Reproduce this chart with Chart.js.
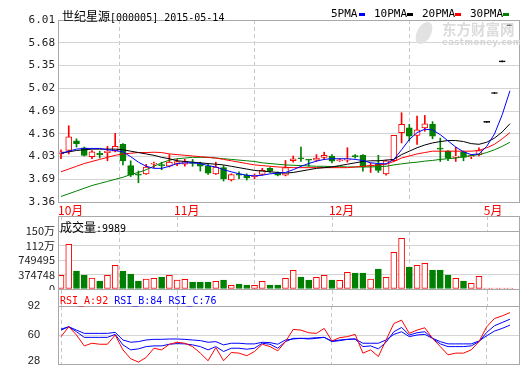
<!DOCTYPE html>
<html>
<head>
<meta charset="utf-8">
<script src="https://cdn.jsdelivr.net/npm/chart.js"></script>
<style>
body { margin: 0; background: #fff; }
#wrap { position: relative; width: 520px; height: 365px; overflow: hidden; }
canvas { position: absolute; left: 0; }
.t { position: absolute; white-space: nowrap; line-height: 1; color: #000; }
.cjk { font-family: "Noto Sans CJK SC", sans-serif; font-size: 12px; }
.mono { font-family: "DejaVu Sans Mono", monospace; font-size: 10px; }
.leg { font-family: "DejaVu Sans Mono", monospace; font-size: 11px; }
.sw { position: absolute; width: 6px; height: 3px; }
</style>
</head>
<body>
<div id="wrap">
  <canvas id="kline" width="520" height="216" style="top:0"></canvas>
  <canvas id="vol" width="520" height="74" style="top:216px"></canvas>
  <canvas id="rsi" width="520" height="75" style="top:290px"></canvas>

  <div class="t" style="left:417px;top:21px;width:14px;height:24px;border-radius:50%;background:#e2e2e2;transform:rotate(28deg)"></div>
  <div class="t" style="left:442px;top:22px;font-family:'Noto Sans CJK SC';font-weight:bold;font-size:14.5px;color:#dcdcdc">东方财富网</div>
  <div class="t" style="left:442px;top:38px;font-family:'DejaVu Sans';font-weight:bold;font-size:8.5px;color:#d6d6d6;letter-spacing:0.4px">eastmoney.com</div>

  <div class="t" style="left:62px;top:8px"><span class="cjk">世纪星源</span><span class="mono">[000005] 2015-05-14</span></div>

  <div class="t leg" style="left:331px;top:8px">5PMA</div>
  <div class="sw" style="left:359px;top:13px;background:#0000ff"></div>
  <div class="t leg" style="left:374px;top:8px">10PMA</div>
  <div class="sw" style="left:407px;top:13px;background:#000"></div>
  <div class="t leg" style="left:422px;top:8px">20PMA</div>
  <div class="sw" style="left:455px;top:13px;background:#ff0000"></div>
  <div class="t leg" style="left:470px;top:8px">30PMA</div>
  <div class="sw" style="left:503px;top:13px;background:#008000"></div>

  <div class="t" style="left:60px;top:219px"><span class="cjk">成交量</span><span class="mono">:9989</span></div>

  <div class="t mono" style="left:60px;top:296px"><span style="color:#ff0000">RSI_A:92</span> <span style="color:#0000ff">RSI_B:84</span> <span style="color:#0000ff">RSI_C:76</span></div>
</div>

<script>
// month labels on the time axis and the candle index where each month starts
var monthLabels = ['10月', '11月', '12月', '5月'];
var monthStart = [0, 15, 35, 55];

var priceTicks = ['3.36', '3.69', '4.03', '4.36', '4.69', '5.02', '5.35', '5.68', '6.01'];
var volTicks = [0, 374748, 749495, 1124243, 1498990];
var rsiTicks = [28, 60, 92];

var open = [4.06, 4.11, 4.25, 4.15, 4.02, 4.07, 4.08, 4.10, 4.20, 3.89,
    3.76, 3.77, 3.91, 3.90, 3.88, 3.91, 3.91, 3.94, 3.92, 3.88,
    3.77, 3.86, 3.68, 3.77, 3.75, 3.73, 3.76, 3.85, 3.79, 3.75,
    3.96, 4.00, 3.98, 3.97, 4.01, 4.03, 3.96, 3.97, 4.03, 4.04,
    3.88, 3.91, 3.77, 3.96, 4.37, 4.44, 4.33, 4.44, 4.49, 4.14,
    4.10, 4.01, 4.09, 4.02, 4.05, 4.52, 4.94, 5.40, 5.93];
var high = [4.12, 4.47, 4.28, 4.16, 4.11, 4.10, 4.17, 4.36, 4.21, 3.96,
    3.81, 3.91, 3.94, 3.94, 4.05, 3.98, 3.98, 3.98, 3.94, 3.91,
    3.94, 3.89, 3.77, 3.80, 3.77, 3.77, 3.85, 3.86, 3.80, 3.965,
    4.03, 4.16, 3.98, 4.05, 4.085, 4.05, 3.99, 4.15, 4.05, 4.05,
    3.93, 4.04, 3.97, 4.33, 4.66, 4.49, 4.61, 4.62, 4.53, 4.29,
    4.11, 4.16, 4.10, 4.05, 4.15, 4.52, 4.94, 5.40, 5.93];
var low = [3.99, 4.06, 4.16, 4.03, 3.99, 4.00, 3.96, 4.09, 3.90, 3.73,
    3.64, 3.76, 3.86, 3.83, 3.87, 3.89, 3.88, 3.88, 3.81, 3.76,
    3.76, 3.665, 3.665, 3.70, 3.68, 3.70, 3.75, 3.79, 3.74, 3.74,
    3.94, 3.95, 3.88, 3.955, 3.98, 3.93, 3.95, 3.94, 4.00, 3.81,
    3.79, 3.79, 3.75, 3.95, 4.22, 4.25, 4.20, 4.39, 4.28, 3.95,
    3.96, 3.95, 3.96, 3.99, 4.03, 4.52, 4.94, 5.40, 5.93];
var close = [4.09, 4.31, 4.21, 4.04, 4.09, 4.05, 4.10, 4.17, 3.96, 3.75,
    3.75, 3.87, 3.92, 3.89, 3.94, 3.95, 3.95, 3.92, 3.88, 3.78,
    3.87, 3.70, 3.76, 3.75, 3.71, 3.75, 3.82, 3.81, 3.75, 3.86,
    3.99, 3.99, 3.97, 4.00, 4.04, 3.955, 3.97, 3.98, 4.02, 3.87,
    3.89, 3.82, 3.96, 4.33, 4.49, 4.32, 4.41, 4.50, 4.32, 4.13,
    4.00, 4.03, 4.01, 4.03, 4.11, 4.52, 4.94, 5.40, 5.93];

var ma5 = [4.07, 4.10, 4.13, 4.14, 4.14, 4.14, 4.12, 4.11, 4.09, 4.02,
    3.94, 3.88, 3.85, 3.85, 3.88, 3.92, 3.93, 3.93, 3.92, 3.89,
    3.87, 3.83, 3.80, 3.77, 3.75, 3.74, 3.75, 3.77, 3.78, 3.79,
    3.83, 3.88, 3.92, 3.955, 3.98, 3.99, 3.99, 3.99, 3.98, 3.965,
    3.93, 3.92, 3.915, 3.98, 4.12, 4.27, 4.37, 4.42, 4.41, 4.34,
    4.25, 4.16, 4.09, 4.05, 4.06, 4.17, 4.35, 4.63, 4.98];
var ma10 = [4.07, 4.09, 4.11, 4.12, 4.13, 4.13, 4.13, 4.13, 4.12, 4.10,
    4.08, 4.06, 4.04, 4.01, 3.99, 3.96, 3.95, 3.94, 3.93, 3.92,
    3.91, 3.90, 3.88, 3.86, 3.84, 3.82, 3.81, 3.80, 3.79, 3.78,
    3.79, 3.81, 3.83, 3.85, 3.86, 3.87, 3.89, 3.91, 3.93, 3.95,
    3.96, 3.96, 3.97, 3.98, 4.05, 4.10, 4.15, 4.19, 4.22, 4.24,
    4.255, 4.255, 4.24, 4.21, 4.20, 4.23, 4.29, 4.38, 4.50];
var ma20 = [3.80, 3.84, 3.88, 3.92, 3.95, 3.98, 4.01, 4.04, 4.06, 4.07,
    4.08, 4.08, 4.085, 4.08, 4.06, 4.05, 4.04, 4.03, 4.02, 4.01,
    4.00, 3.98, 3.96, 3.94, 3.92, 3.90, 3.89, 3.88, 3.87, 3.865,
    3.86, 3.86, 3.86, 3.86, 3.86, 3.86, 3.86, 3.86, 3.87, 3.88,
    3.89, 3.90, 3.91, 3.95, 4.00, 4.03, 4.06, 4.08, 4.10, 4.10,
    4.10, 4.10, 4.10, 4.10, 4.11, 4.15, 4.20, 4.28, 4.37];
var ma30 = [3.44, 3.48, 3.52, 3.56, 3.60, 3.63, 3.66, 3.69, 3.72, 3.76,
    3.79, 3.83, 3.88, 3.93, 3.97, 3.99, 4.00, 4.01, 4.01, 4.01,
    4.00, 3.99, 3.98, 3.97, 3.96, 3.95, 3.93, 3.92, 3.91, 3.90,
    3.895, 3.89, 3.885, 3.88, 3.88, 3.875, 3.875, 3.87, 3.87, 3.87,
    3.87, 3.875, 3.88, 3.90, 3.915, 3.93, 3.94, 3.955, 3.965, 3.98,
    3.99, 4.00, 4.02, 4.035, 4.05, 4.08, 4.12, 4.17, 4.23];

var volume = [353000, 1154000, 465000, 362000, 284000, 207000, 353000, 612000, 465000, 388000,
    207000, 258000, 276000, 310000, 353000, 233000, 250000, 181000, 181000, 181000,
    198000, 233000, 95000, 129000, 103000, 95000, 198000, 103000, 103000, 276000,
    482000, 310000, 233000, 302000, 353000, 233000, 224000, 431000, 414000, 414000,
    258000, 517000, 302000, 948000, 1310000, 569000, 612000, 663000, 491000, 491000,
    362000, 276000, 207000, 146000, 327000, 10000, 10000, 10000, 9989];

var rsiA = [58.2, 69.1, 60.0, 48.0, 50.9, 49.8, 49.8, 60.0, 43.6, 33.8,
    30.1, 35.2, 45.4, 43.6, 49.8, 52.0, 50.9, 47.2, 40.0, 31.6,
    46.1, 31.6, 40.7, 40.0, 37.1, 41.8, 49.8, 47.2, 42.5, 52.7,
    66.2, 65.4, 62.5, 61.8, 67.3, 53.4, 57.1, 58.2, 60.7, 40.0,
    43.6, 36.3, 54.5, 72.7, 76.4, 61.8, 65.4, 68.0, 56.3, 47.2,
    38.1, 40.0, 40.0, 43.6, 52.7, 69.1, 78.2, 81.1, 84.7];
var rsiB = [65.4, 69.1, 63.6, 57.4, 57.4, 57.4, 57.4, 60.7, 49.1, 43.6,
    44.7, 47.2, 48.0, 48.0, 49.8, 50.5, 50.2, 49.1, 47.2, 43.6,
    47.2, 41.8, 45.4, 45.4, 44.3, 45.4, 50.9, 49.8, 45.4, 52.7,
    56.3, 56.3, 55.6, 56.3, 57.4, 52.7, 53.8, 55.2, 55.6, 47.2,
    48.0, 44.7, 52.0, 63.6, 68.3, 60.0, 62.5, 63.6, 56.3, 50.2,
    47.2, 47.2, 47.2, 48.0, 52.7, 62.9, 70.2, 73.8, 77.4];
var rsiC = [66.5, 69.1, 65.4, 61.8, 61.8, 61.8, 61.8, 62.9, 54.5, 52.0,
    52.7, 54.5, 55.2, 55.2, 55.6, 55.6, 55.2, 54.5, 53.8, 52.0,
    52.7, 49.1, 50.9, 50.9, 50.2, 50.2, 52.0, 51.6, 49.8, 54.5,
    55.6, 56.3, 56.3, 57.1, 57.4, 53.4, 54.5, 55.2, 55.6, 50.9,
    50.9, 50.9, 54.5, 60.7, 63.6, 58.2, 60.0, 60.7, 56.3, 52.7,
    50.2, 50.2, 50.2, 50.2, 53.4, 59.2, 64.3, 67.3, 70.9];

var RED = '#ff0000', GREEN = '#008000', BLUE = '#0000ff';
var GRID = '#d4d4d4', FRAME = '#a8a8a8';

function pts(arr) {
    var out = [];
    for (var i = 0; i < arr.length; i++) out.push({ x: i, y: arr[i] });
    return out;
}

var candleColor = [], bodyFill = [], volColor = [], volFill = [];
for (var i = 0; i < open.length; i++) {
    var flat = open[i] == close[i] && high[i] == low[i];
    var up = close[i] >= open[i];
    candleColor.push(flat ? '#000000' : (up ? RED : GREEN));
    bodyFill.push(flat ? '#000000' : (up ? '#ffffff' : GREEN));
    volColor.push(up ? RED : GREEN);
    volFill.push(up ? '#ffffff' : GREEN);
}

var bodies = [], wicks = [];
for (var i = 0; i < open.length; i++) {
    bodies.push({ x: i, y: [open[i], close[i]] });
    wicks.push({ x: i, y: [low[i], high[i]] });
}

// no label overflow padding, the panels are laid out by hand
function noPad(s) {
    s.paddingTop = 0; s.paddingBottom = 0; s.paddingLeft = 0; s.paddingRight = 0;
}

// frame round each panel, with the dashed month lines carried up through the title strip
var framePlugin = {
    id: 'frame',
    afterDraw: function (chart, args, opts) {
        var ctx = chart.ctx, a = chart.chartArea, x = chart.scales.x;
        var top = opts.top;
        ctx.save();
        ctx.lineWidth = 1;
        if (top < a.top) {
            ctx.strokeStyle = '#c8c8c8';
            ctx.setLineDash([4, 3]);
            monthStart.forEach(function (v) {
                var px = Math.round(x.getPixelForValue(v)) + 0.5;
                ctx.beginPath();
                ctx.moveTo(px, top);
                ctx.lineTo(px, a.top);
                ctx.stroke();
            });
        }
        ctx.setLineDash([]);
        ctx.strokeStyle = FRAME;
        ctx.beginPath();
        if (opts.drawTop) {
            ctx.moveTo(a.left - 0.5, top + 0.5);
            ctx.lineTo(a.right + 0.5, top + 0.5);
        }
        ctx.moveTo(a.left - 0.5, top);
        ctx.lineTo(a.left - 0.5, a.bottom + 1);
        ctx.moveTo(a.right + 0.5, top);
        ctx.lineTo(a.right + 0.5, a.bottom + 1);
        ctx.moveTo(a.left - 0.5, a.bottom + 0.5);
        ctx.lineTo(a.right + 0.5, a.bottom + 0.5);
        ctx.moveTo(a.left - 0.5, a.top + 0.5);
        ctx.lineTo(a.right + 0.5, a.top + 0.5);
        ctx.stroke();
        ctx.restore();
    }
};

function xAxis(showLabels) {
    return {
        type: 'linear',
        min: -0.26,
        max: 59.17,
        offset: false,
        afterBuildTicks: function (s) {
            s.ticks = monthStart.map(function (v) { return { value: v }; });
        },
        afterFit: function (s) { s.height = showLabels ? 14 : 0; noPad(s); },
        grid: { color: '#c8c8c8', drawTicks: false },
        border: { display: false, dash: [4, 3] },
        ticks: {
            display: showLabels,
            autoSkip: false,
            maxRotation: 0,
            align: 'start',
            labelOffset: -3,
            padding: 1,
            color: RED,
            font: { family: '"Noto Sans CJK SC", sans-serif', size: 12 },
            callback: function (v, idx) { return monthLabels[idx]; }
        }
    };
}

Chart.defaults.animation = false;
Chart.defaults.plugins.legend.display = false;
Chart.defaults.plugins.tooltip.enabled = false;

new Chart(document.getElementById('kline'), {
    type: 'bar',
    data: {
        datasets: [
            { type: 'line', data: pts(ma5), borderColor: BLUE, borderWidth: 1, pointRadius: 0, order: 0 },
            { type: 'line', data: pts(ma10), borderColor: '#000000', borderWidth: 1, pointRadius: 0, order: 0 },
            { type: 'line', data: pts(ma20), borderColor: RED, borderWidth: 1, pointRadius: 0, order: 0 },
            { type: 'line', data: pts(ma30), borderColor: GREEN, borderWidth: 1, pointRadius: 0, order: 0 },
            {
                data: bodies, backgroundColor: bodyFill, borderColor: candleColor, borderWidth: 1,
                borderSkipped: false, barThickness: 6, minBarLength: 1, grouped: false, order: 1
            },
            {
                data: wicks, backgroundColor: candleColor, borderWidth: 0,
                barThickness: 1, minBarLength: 1, grouped: false, order: 2
            }
        ]
    },
    options: {
        responsive: false,
        layout: { autoPadding: false, padding: { top: 20, right: 1, left: 0, bottom: 0 } },
        plugins: { frame: { top: 20, drawTop: true } },
        scales: {
            x: xAxis(true),
            y: {
                min: 3.36,
                max: 6.01,
                afterBuildTicks: function (s) {
                    s.ticks = priceTicks.map(function (t, k) { return { value: 3.36 + k * (6.01 - 3.36) / 8 }; });
                },
                afterFit: function (s) { s.width = 59; noPad(s); },
                grid: { color: GRID, drawTicks: false },
                border: { display: false },
                ticks: {
                    autoSkip: false,
                    padding: 4,
                    color: '#222',
                    font: { family: '"DejaVu Sans Mono", monospace', size: 11 },
                    callback: function (v, idx) { return priceTicks[idx]; }
                }
            }
        }
    },
    plugins: [framePlugin]
});

new Chart(document.getElementById('vol'), {
    type: 'bar',
    data: {
        datasets: [{
            data: pts(volume), backgroundColor: volFill, borderColor: volColor, borderWidth: 1,
            borderSkipped: false, barThickness: 6, minBarLength: 1
        }]
    },
    options: {
        responsive: false,
        layout: { autoPadding: false, padding: { top: 15, right: 1, left: 0, bottom: 1 } },
        plugins: { frame: { top: 0, drawTop: true } },
        scales: {
            x: xAxis(false),
            y: {
                min: 0,
                max: volTicks[volTicks.length - 1],
                afterBuildTicks: function (s) {
                    s.ticks = volTicks.map(function (v) { return { value: v }; });
                },
                afterFit: function (s) { s.width = 59; noPad(s); },
                grid: { color: GRID, drawTicks: false },
                border: { display: false },
                ticks: {
                    autoSkip: false,
                    padding: 4,
                    color: '#222',
                    font: { family: '"Liberation Sans Narrow", "Noto Sans CJK SC", sans-serif', size: 11 },
                    callback: function (v) {
                        return v >= 1000000 ? Math.round(v / 10000) + '万' : String(v);
                    }
                }
            }
        }
    },
    plugins: [framePlugin]
});

new Chart(document.getElementById('rsi'), {
    type: 'line',
    data: {
        datasets: [
            { data: pts(rsiA), borderColor: RED, borderWidth: 1, pointRadius: 0 },
            { data: pts(rsiB), borderColor: BLUE, borderWidth: 1, pointRadius: 0 },
            { data: pts(rsiC), borderColor: BLUE, borderWidth: 1, pointRadius: 0 }
        ]
    },
    options: {
        responsive: false,
        layout: { autoPadding: false, padding: { top: 16, right: 1, left: 0, bottom: 1 } },
        plugins: { frame: { top: 0, drawTop: false } },
        scales: {
            x: xAxis(false),
            y: {
                min: rsiTicks[0],
                max: rsiTicks[rsiTicks.length - 1],
                afterBuildTicks: function (s) {
                    s.ticks = rsiTicks.map(function (v) { return { value: v }; });
                },
                afterFit: function (s) { s.width = 59; noPad(s); },
                grid: { color: GRID, drawTicks: false },
                border: { display: false },
                ticks: {
                    autoSkip: false,
                    padding: 19,
                    color: '#222',
                    font: { family: '"Liberation Sans", sans-serif', size: 11, lineHeight: 0.5 },
                    callback: function (v, idx) { return idx == 0 ? [String(v), ''] : String(v); }
                }
            }
        }
    },
    plugins: [framePlugin]
});
</script>
</body>
</html>
